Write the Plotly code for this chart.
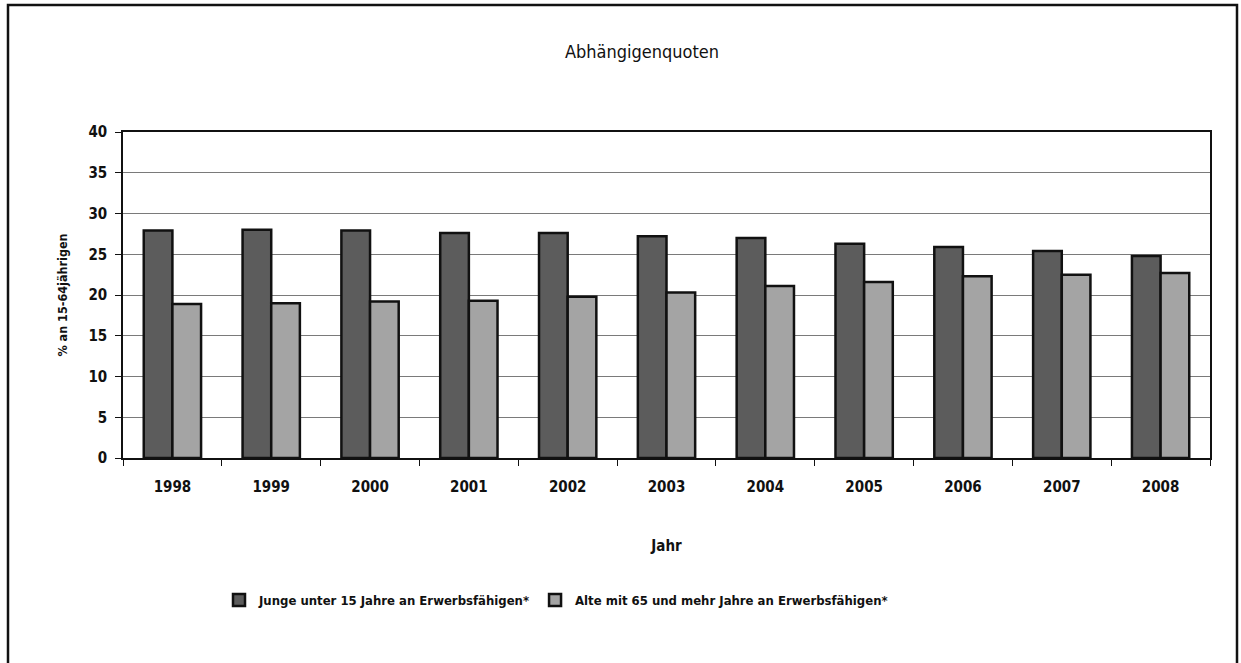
import plotly.graph_objects as go

years = ["1998", "1999", "2000", "2001", "2002", "2003", "2004", "2005", "2006", "2007", "2008"]
junge = [27.9, 28.0, 27.9, 27.6, 27.6, 27.2, 27.0, 26.3, 25.9, 25.4, 24.8]
alte = [18.9, 19.0, 19.2, 19.3, 19.8, 20.3, 21.1, 21.6, 22.3, 22.5, 22.7]
series_names = ["Junge unter 15 Jahre an Erwerbsfähigen*", "Alte mit 65 und mehr Jahre an Erwerbsfähigen*"]
y_ticks = [0, 5, 10, 15, 20, 25, 30, 35, 40]

FONT = "DejaVu Sans Condensed, Liberation Sans Narrow, sans-serif"

fig = go.Figure()
fig.add_trace(go.Bar(x=years, y=junge, name=series_names[0],
                     marker=dict(color="#5c5c5c", line=dict(color="#111111", width=2.5))))
fig.add_trace(go.Bar(x=years, y=alte, name=series_names[1],
                     marker=dict(color="#a4a4a4", line=dict(color="#111111", width=2.5))))

W, H = 1241, 663
L, R, T, B = 123, 31, 132, 205
pw, ph = W - L - R, H - T - B

def px_x(x):
    return (x - L) / pw

def px_y(y):
    return (H - B - y) / ph

fig.update_layout(
    width=W, height=H,
    margin=dict(l=L, r=R, t=T, b=B),
    paper_bgcolor="white", plot_bgcolor="white",
    font=dict(family=FONT, size=14, color="#111111", weight="bold"),
    barmode="group", bargap=0.42, bargroupgap=0,
    title=dict(text="Abhängigenquoten", x=px_x(642), xref="paper", xanchor="center",
               y=1 - 52 / H, yanchor="middle", font=dict(size=18, weight="normal")),
    showlegend=True,
    legend=dict(orientation="h", x=px_x(556), xanchor="center", y=px_y(600), yanchor="middle",
                font=dict(size=13), itemwidth=30, traceorder="normal", bgcolor="rgba(0,0,0,0)"),
    xaxis=dict(type="category", showline=True, linecolor="#111111", linewidth=1.5, mirror=True,
               ticks="outside", tickson="boundaries", ticklen=6, tickcolor="#111111",
               showgrid=False, ticklabelstandoff=14,
               title=dict(text="Jahr", font=dict(size=15), standoff=46),
               tickfont=dict(size=15)),
    yaxis=dict(range=[0, 40], tickvals=y_ticks, showline=True, linecolor="#111111", linewidth=1.5,
               mirror=True, ticks="outside", ticklen=6, tickcolor="#111111",
               showgrid=True, gridcolor="#7a7a7a", gridwidth=1, zeroline=False,
               ticklabelstandoff=5,
               title=dict(text="% an 15-64jährigen", font=dict(size=12.5), standoff=18),
               tickfont=dict(size=15)),
    shapes=[dict(type="rect", xref="paper", yref="paper",
                 x0=px_x(8), x1=px_x(1237), y0=px_y(680), y1=px_y(5),
                 line=dict(color="#111111", width=2.5), fillcolor="rgba(0,0,0,0)", layer="below")],
)

fig.write_html("out.html", config={"displayModeBar": False},
               post_script="document.body.style.margin='0';document.body.style.overflow='hidden';")
